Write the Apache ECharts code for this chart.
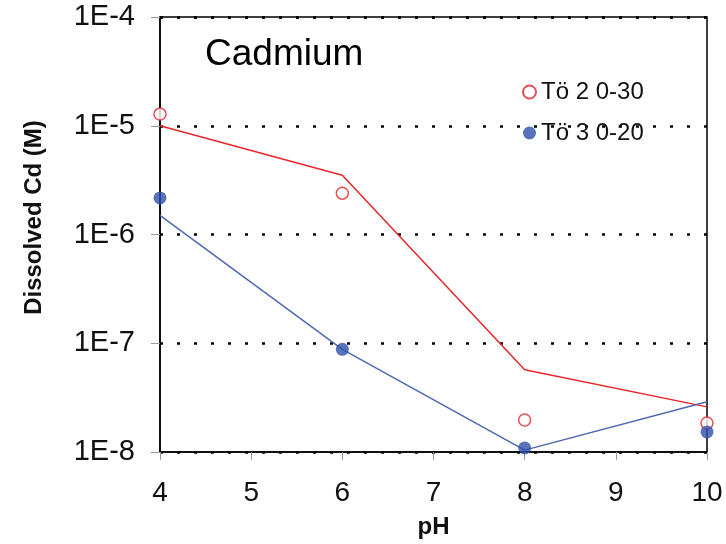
<!DOCTYPE html>
<html>
<head>
<meta charset="utf-8">
<script src="https://cdn.jsdelivr.net/npm/echarts@6/dist/echarts.min.js"></script>
<style>html,body{margin:0;padding:0;background:#fff}#c{width:726px;height:544px}</style>
</head>
<body>
<div id="c"></div>
<script>
var pH = [4, 6, 8, 10];
var toe2Measured = [1.28e-5, 2.4e-6, 1.97e-8, 1.85e-8];
var toe3Measured = [2.17e-6, 8.8e-8, 1.09e-8, 1.53e-8];
var toe2Model = [1.0e-5, 3.5e-6, 5.7e-8, 2.6e-8];
var toe3Model = [1.5e-6, 8.8e-8, 1.04e-8, 2.9e-8];
var seriesNames = ['Tö 2 0-30', 'Tö 3 0-20'];

function pairs(xs, ys) { return xs.map(function (x, i) { return [x, ys[i]]; }); }

var FONT = "'Liberation Sans', Arial, sans-serif";
var chart = echarts.init(document.getElementById('c'), null, { renderer: 'canvas' });
chart.setOption({
  animation: false,
  backgroundColor: '#fff',
  textStyle: { fontFamily: FONT },
  title: {
    text: 'Cadmium', left: 200, top: 31,
    textStyle: { fontFamily: FONT, fontSize: 37, fontWeight: 'normal', color: '#000' }
  },
  legend: {
    data: seriesNames, orient: 'vertical', left: 517, top: 75,
    itemWidth: 13, itemHeight: 13, itemGap: 17,
    textStyle: { fontFamily: FONT, fontSize: 24, color: '#111' }
  },
  grid: { left: 160, right: 19, top: 17, bottom: 92, show: true, borderColor: '#000', borderWidth: 1.5,
          backgroundColor: 'transparent', containLabel: false, outerBoundsMode: 'none' },
  xAxis: [{
    type: 'value', min: 4, max: 10, interval: 1, position: 'bottom',
    axisLine: { lineStyle: { color: '#000', width: 1.5 } },
    axisTick: { show: true, inside: false, length: 8, lineStyle: { color: '#999' } },
    axisLabel: { fontFamily: FONT, fontSize: 28, color: '#111', margin: 27 },
    splitLine: { show: false }
  }, {
    type: 'value', min: 4, max: 10, interval: 1, position: 'bottom',
    name: 'pH', nameLocation: 'middle', nameGap: 63, nameMoveOverlap: false,
    nameTextStyle: { fontFamily: FONT, fontSize: 24, fontWeight: 'bold', color: '#111' },
    axisLine: { show: false }, axisTick: { show: false }, axisLabel: { show: false }, splitLine: { show: false }
  }],
  yAxis: {
    type: 'log', logBase: 10, min: 1e-8, max: 1e-4,
    name: 'Dissolved Cd (M)', nameLocation: 'middle', nameGap: 114, nameMoveOverlap: false,
    nameTextStyle: { fontFamily: FONT, fontSize: 24, fontWeight: 'bold', color: '#111', padding: [0, 0, 0, 34] },
    axisLine: { show: true, lineStyle: { color: '#000', width: 1.5 } },
    axisTick: { show: true, inside: false, length: 9, lineStyle: { color: '#999' } },
    axisLabel: {
      fontFamily: FONT, fontSize: 29, color: '#111', margin: 25,
      formatter: function (v) { return '1E' + Math.round(Math.log10(v)); }
    },
    splitLine: { show: true, lineStyle: { color: '#000', width: 2.5, type: [3, 14] } },
    minorTick: { show: false }
  },
  series: [
    { name: 'model2', type: 'line', data: pairs(pH, toe2Model), showSymbol: false, symbol: 'none',
      lineStyle: { color: '#e8262a', width: 1.5 }, itemStyle: { color: '#e8262a' }, z: 2 },
    { name: 'model3', type: 'line', data: pairs(pH, toe3Model), showSymbol: false, symbol: 'none',
      lineStyle: { color: '#4d68b0', width: 1.5 }, itemStyle: { color: '#4d68b0' }, z: 2 },
    { name: seriesNames[0], type: 'scatter', data: pairs(pH, toe2Measured), symbol: 'circle', symbolSize: 12, clip: false,
      itemStyle: { color: '#fff', borderColor: '#e0262c', borderWidth: 1.5 }, z: 3 },
    { name: seriesNames[1], type: 'scatter', data: pairs(pH, toe3Measured), symbol: 'circle', symbolSize: 13, clip: false,
      itemStyle: { color: '#2f50aa' }, z: 4 }
  ]
});
</script>
</body>
</html>
